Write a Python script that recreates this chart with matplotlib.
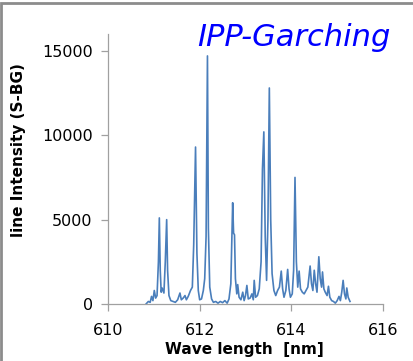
import matplotlib
matplotlib.use('Agg')
import matplotlib.pyplot as plt
from matplotlib.patches import Rectangle

# spectrum: wavelength [nm] and line intensity (S-BG)
wavelength = [
    610.83, 610.88, 610.92, 610.95, 610.98, 611.01, 611.04, 611.07, 611.10, 611.12,
    611.14, 611.16, 611.18, 611.20, 611.22, 611.25, 611.28, 611.30, 611.33, 611.37,
    611.42, 611.47, 611.52, 611.57, 611.60, 611.64, 611.68, 611.71, 611.75, 611.80,
    611.84, 611.87, 611.91, 611.94, 611.97, 612.00, 612.04, 612.08, 612.11, 612.14,
    612.17, 612.19, 612.22, 612.26, 612.30, 612.35, 612.40, 612.45, 612.50, 612.55,
    612.60, 612.64, 612.68, 612.70, 612.72, 612.74, 612.76, 612.78, 612.81, 612.83,
    612.86, 612.90, 612.94, 612.97, 613.00, 613.03, 613.06, 613.10, 613.14, 613.17,
    613.19, 613.22, 613.26, 613.30, 613.34, 613.37, 613.40, 613.43, 613.46, 613.49,
    613.52, 613.55, 613.58, 613.62, 613.66, 613.70, 613.74, 613.78, 613.81, 613.84,
    613.88, 613.92, 613.95, 613.98, 614.02, 614.05, 614.08, 614.11, 614.14, 614.17,
    614.20, 614.24, 614.28, 614.32, 614.36, 614.41, 614.44, 614.47, 614.50, 614.53,
    614.56, 614.60, 614.63, 614.66, 614.68, 614.71, 614.74, 614.78, 614.81, 614.84,
    614.88, 614.92, 614.96, 615.00, 615.04, 615.07, 615.10, 615.13, 615.16, 615.19,
    615.21, 615.24, 615.28,
]
intensity = [
    0, 150, 100, 450, 200, 800, 350, 500, 2500, 5100,
    2000, 700, 950, 800, 650, 2500, 5000, 2000, 500, 200,
    150, 100, 250, 650, 250, 350, 500, 250, 450, 800,
    1000, 3500, 9300, 3000, 800, 250, 300, 800, 1500, 4000,
    14700, 4500, 1000, 300, 100, 150, 50, 150, 80, 200,
    50, 300, 1200, 3500, 6000, 4200, 4100, 1500, 600, 1150,
    400, 250, 700, 200, 500, 1100, 300, 350, 600, 250,
    1400, 400, 500, 900, 2500, 8000, 10200, 4000, 1400, 5000,
    12800, 5000, 1800, 800, 500, 800, 1000, 1950, 900, 400,
    800, 2050, 900, 400, 600, 2000, 7500, 2500, 1000, 1950,
    900, 700, 600, 800, 1000, 2250, 1200, 800, 2000, 1200,
    700, 2800, 1500, 1000, 1900, 900, 700, 500, 1050, 400,
    200, 150, 50, 200, 450, 200, 700, 1400, 600, 300,
    950, 400, 150,
]
x_ticks = [610, 612, 614, 616]
y_ticks = [0, 5000, 10000, 15000]

fig = plt.figure(figsize=(4.13, 3.61), dpi=100)
ax = fig.add_axes([108 / 413, 57 / 361, 275 / 413, 270 / 361])

ax.plot(wavelength, intensity, color='#4A7EBB', linewidth=1.2)

ax.set_xlim(610, 616)
ax.set_ylim(0, 16000)
ax.set_xticks(x_ticks)
ax.set_yticks(y_ticks)
for side in ['top', 'right']:
    ax.spines[side].set_visible(False)
for side in ['left', 'bottom']:
    ax.spines[side].set_color('#A0A0A0')
    ax.spines[side].set_linewidth(0.9)
ax.tick_params(direction='out', length=5, width=0.9, color='#A0A0A0',
               labelsize=11.5)
ax.tick_params(axis='x', pad=9)
ax.tick_params(axis='y', pad=6)
ax.set_xlabel('Wave length  [nm]', fontsize=11, fontweight='bold')
ax.set_ylabel('line Intensity (S-BG)', fontsize=11, fontweight='bold')
ax.xaxis.set_label_coords(0.495, -0.167, transform=ax.transAxes)
ax.xaxis.label.set_va('center')
ax.yaxis.set_label_coords(-0.327, 0.57, transform=ax.transAxes)
ax.yaxis.label.set_va('center')

fig.text(294 / 413, 1 - 37 / 361, 'IPP-Garching', color='#0000FF', fontsize=22,
         style='italic', ha='center', va='center')

# grey frame round the whole picture (left and top edges visible)
fig.patches.append(Rectangle((1 / 413, -0.1), 1.2, 1 - 3 / 361 + 0.1,
                             transform=fig.transFigure, fill=False,
                             edgecolor='#8C8C8C', linewidth=2))

fig.savefig('out.png', dpi=100)
